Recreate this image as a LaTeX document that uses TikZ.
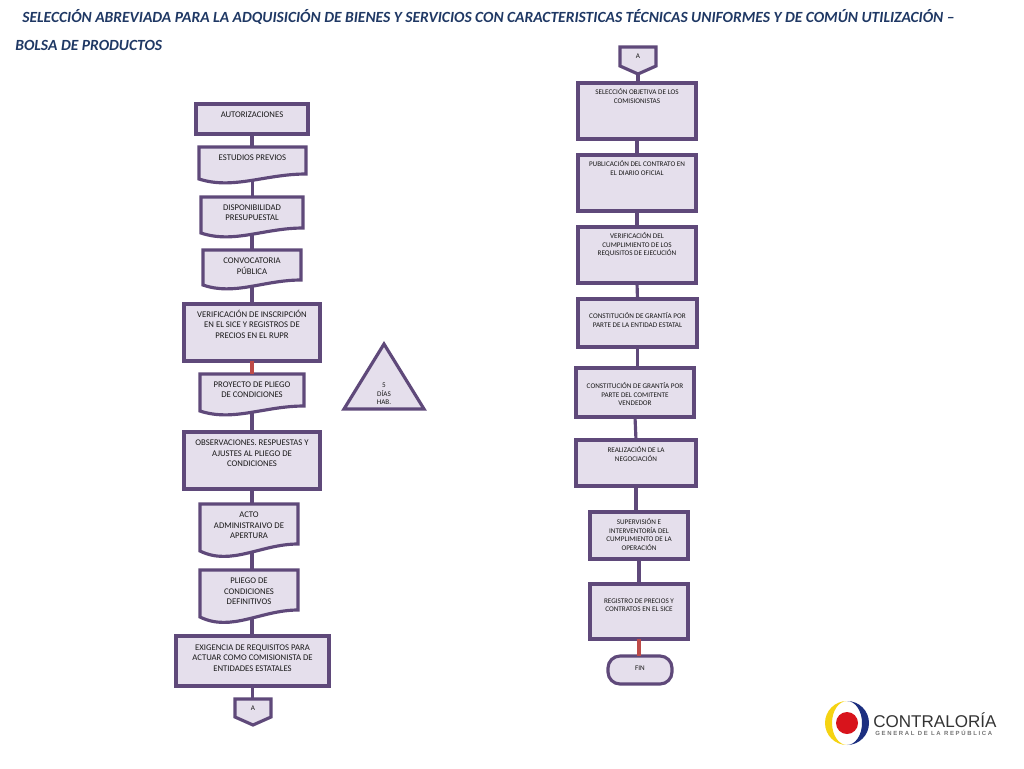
\documentclass[tikz,border=0pt]{standalone}
\usepackage{fontspec}
\setmainfont{Carlito}
\newfontfamily\logofont{Liberation Sans}
\usetikzlibrary{calc}
\pgfdeclarelayer{background}
\pgfsetlayers{background,main}

\definecolor{boxline}{HTML}{5F497A}
\definecolor{boxfill}{HTML}{E5DFEC}
\definecolor{redline}{HTML}{BE4B48}
\definecolor{titleblue}{HTML}{1F3864}
\definecolor{logoblue}{HTML}{1C2F80}
\definecolor{logoyellow}{HTML}{F5D312}
\definecolor{logored}{HTML}{D8141C}

\newlength{\px}
\setlength{\px}{0.02cm}

\tikzset{
  flowbase/.style={inner sep=0pt, outer sep=0pt, anchor=north west, text=black!90, align=center},
  leftfont/.style={font=\fontsize{4.95pt}{5.95pt}\selectfont},
  rightfont/.style={font=\fontsize{4.08pt}{4.85pt}\selectfont},
  flowbox/.style={flowbase, draw=boxline, fill=boxfill, line width=1.8pt},
  flowdoc/.style={flowbase},
  flowshape/.style={draw=boxline, fill=boxfill, line width=1.8pt, line join=miter},
  flowline/.style={draw=boxline, line width=1.8pt},
  flowred/.style={draw=redline, line width=1.8pt},
  titletext/.style={anchor=base west, inner sep=0pt, text=titleblue, font=\fontsize{8.83pt}{10pt}\selectfont\bfseries\itshape}
}

% text hung from the top of a box: width, height, gap, text
\newcommand{\flowtext}[4]{\parbox[c][#2\px][t]{#1\px}{\centering\vspace*{#3\px}#4}}

% outline with a wavy lower edge, behind the node
\newcommand{\docshape}[2]{%
  \begin{pgfonlayer}{background}
    \draw[flowshape] (#1.north west) -- (#1.north east)
      -- ([yshift=#2*5*\px]#1.south east)
      .. controls ($(#1.south west)!0.62!(#1.south east)+(0,-#2*5)$)
      and ($(#1.south west)!0.32!(#1.south east)+(0,#2*11)$)
      .. (#1.south west) -- cycle;
  \end{pgfonlayer}}

% off-page marker, the tip is left as #1-tip
\newcommand{\pageshape}[1]{%
  \coordinate (#1-tip) at ([yshift=-8*\px]#1.south);
  \begin{pgfonlayer}{background}
    \draw[flowshape] (#1.north west) -- (#1.north east) -- (#1.south east)
      -- (#1-tip) -- (#1.south west) -- cycle;
  \end{pgfonlayer}}

\begin{document}
\begin{tikzpicture}[x=0.02cm, y=-0.02cm]
    \useasboundingbox (0,0) rectangle (1024,768);

    % Title
    \node[titletext] (title1) at (22,22) {SELECCIÓN ABREVIADA PARA LA ADQUISICIÓN DE BIENES Y SERVICIOS CON CARACTERISTICAS TÉCNICAS UNIFORMES Y DE COMÚN UTILIZACIÓN –};
    \node[titletext] (title2) at (15,50) {BOLSA DE PRODUCTOS};

    % Left column
    \node[flowbox, leftfont] (autoriz) at (196,104) {\flowtext{112}{30}{8}{AUTORIZACIONES}};
    \node[flowdoc, leftfont] (estudios) at (199,147) {\flowtext{107}{32}{7.5}{ESTUDIOS PREVIOS}};
    \docshape{estudios}{1}
    \node[flowdoc, leftfont] (dispon) at (201,197) {\flowtext{102}{36}{7.5}{DISPONIBILIDAD\\PRESUPUESTAL}};
    \docshape{dispon}{1}
    \node[flowdoc, leftfont] (convoc) at (203,250) {\flowtext{98}{35}{8}{CONVOCATORIA\\PÚBLICA}};
    \docshape{convoc}{1}
    \node[flowbox, leftfont] (verific) at (184,304) {\flowtext{136}{57}{6}{VERIFICACIÓN DE INSCRIPCIÓN\\EN EL SICE Y REGISTROS DE\\PRECIOS EN EL RUPR}};
    \node[flowdoc, leftfont] (proyecto) at (200,374) {\flowtext{104}{37}{7.5}{PROYECTO DE PLIEGO\\DE CONDICIONES}};
    \docshape{proyecto}{1}
    \node[flowbox, leftfont] (observ) at (184,432) {\flowtext{136}{57}{8}{OBSERVACIONES. RESPUESTAS Y\\AJUSTES AL PLIEGO DE\\CONDICIONES}};
    \node[flowdoc, leftfont] (acto) at (200,504) {\flowtext{98}{47}{8}{ACTO\\ADMINISTRAIVO DE\\APERTURA}};
    \docshape{acto}{1.4}
    \node[flowdoc, leftfont] (pliego) at (200,570) {\flowtext{98}{47}{8}{PLIEGO DE\\CONDICIONES\\DEFINITIVOS}};
    \docshape{pliego}{1.4}
    \node[flowbox, leftfont] (exigen) at (176,636) {\flowtext{153}{50}{8.5}{EXIGENCIA DE REQUISITOS PARA\\ACTUAR COMO COMISIONISTA DE\\ENTIDADES ESTATALES}};
    \node[flowdoc, rightfont] (salida) at (235,699) {\flowtext{36}{18}{6.5}{A}};
    \pageshape{salida}

    % Right column
    \node[flowdoc, rightfont] (entrada) at (620,47) {\flowtext{36}{19}{6.5}{A}};
    \pageshape{entrada}
    \node[flowbox, rightfont] (seleccion) at (578,83) {\flowtext{118}{56}{5.5}{SELECCIÓN OBJETIVA DE LOS\\COMISIONISTAS}};
    \node[flowbox, rightfont] (publica) at (578,155) {\flowtext{118}{56}{5.5}{PUBLICACIÓN DEL CONTRATO EN\\EL DIARIO OFICIAL}};
    \node[flowbox, rightfont] (cumple) at (578,227) {\flowtext{118}{56}{5.5}{VERIFICACIÓN DEL\\CUMPLIMIENTO DE LOS\\REQUISITOS DE EJECUCIÓN}};
    \node[flowbox, rightfont] (garantia) at (578,299) {\flowtext{119}{48}{14}{CONSTITUCIÓN DE GRANTÍA POR\\PARTE DE LA ENTIDAD ESTATAL}};
    \node[flowbox, rightfont] (comitente) at (576,368) {\flowtext{118}{49}{14.5}{CONSTITUCIÓN DE GRANTÍA POR\\PARTE DEL COMITENTE\\VENDEDOR}};
    \node[flowbox, rightfont] (negocia) at (576,440) {\flowtext{120}{46}{6.5}{REALIZACIÓN DE LA\\NEGOCIACIÓN}};
    \node[flowbox, rightfont] (supervis) at (590,512) {\flowtext{98}{47}{6.5}{SUPERVISIÓN E\\INTERVENTORÍA DEL\\CUMPLIMIENTO DE LA\\OPERACIÓN}};
    \node[flowbox, rightfont] (registro) at (590,584) {\flowtext{98}{55}{14.5}{REGISTRO DE PRECIOS Y\\CONTRATOS EN EL SICE}};
    \node[flowbase, flowbox, rightfont, rounded corners=12*\px] (fin) at (608,656) {\flowtext{64}{28}{9.5}{FIN}};

    % Left connectors
    \draw[flowline] (autoriz.south) -- (autoriz.south |- estudios.north);
    \draw[flowline] (estudios.south) -- (estudios.south |- dispon.north);
    \draw[flowline] (dispon.south) -- (dispon.south |- convoc.north);
    \draw[flowline] (convoc.south) -- (convoc.south |- verific.north);
    \draw[flowred] (verific.south) -- (verific.south |- proyecto.north);
    \draw[flowline] (proyecto.south) -- (proyecto.south |- observ.north);
    \draw[flowline] (observ.south) -- (observ.south |- acto.north);
    \draw[flowline] (observ.south |- acto.south) -- (observ.south |- pliego.north);
    \draw[flowline] (observ.south |- pliego.south) -- (observ.south |- exigen.north);
    \draw[flowline] (exigen.south) -- (exigen.south |- salida.north);

    % Right connectors
    \draw[flowline] (entrada-tip) -- (entrada-tip |- seleccion.north);
    \draw[flowline] (seleccion.south) -- (publica.north);
    \draw[flowline] (publica.south) -- (cumple.north);
    \draw[flowline] (cumple.south) -- (garantia.north);
    \draw[flowline] (garantia.south) -- (garantia.south |- comitente.north);
    \draw[flowline] (comitente.south) -- (negocia.north);
    \draw[flowline] (negocia.south) -- (negocia.south |- supervis.north);
    \draw[flowline] (supervis.south) -- (registro.north);
    \draw[flowred] (registro.south) -- (registro.south |- fin.north);

    % Triangle
    \coordinate (tritop) at (384,344);
    \coordinate (trileft) at (344,409);
    \coordinate (triright) at (424,409);
    \draw[flowshape] (tritop) -- (triright) -- (trileft) -- cycle;
    \node[inner sep=0pt, align=center, text=black!90, rightfont] (dias) at (384,394) {5\\DÍAS\\HAB.};

    % Logo
    \fill[logoyellow] (847,701) arc (-90:-270:22) arc (90:270:15 and 22);
    \fill[logoblue] (847,701) arc (-90:90:22) arc (90:-90:15 and 22);
    \fill[logored] (847,723) circle (11);
    \node[anchor=base west, inner sep=0pt, text=black!80, font=\logofont\fontsize{9.7pt}{12pt}\selectfont] (contra) at (873,727) {CONTRALORÍA};
    \node[anchor=base west, inner sep=0pt, text=black!55, font=\logofont\bfseries\fontsize{3.4pt}{4pt}\selectfont] (general) at (875,735) {G E N E R A L\ \ D E\ \ L A\ \ R E P Ú B L I C A};
\end{tikzpicture}
\end{document}
